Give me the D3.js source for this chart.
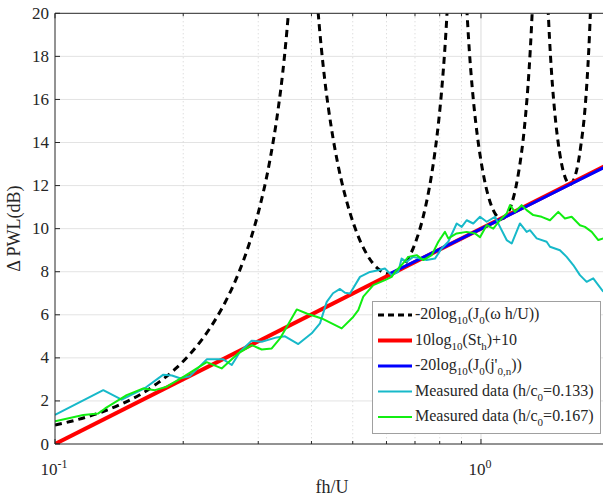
<!DOCTYPE html>
<html><head><meta charset="utf-8">
<script src="https://cdn.jsdelivr.net/npm/d3@7"></script>
<style>
body{margin:0;background:#fff;}
svg text{font-family:"Liberation Serif","Times New Roman","DejaVu Serif",serif;fill:#262626;}
</style>
</head><body>
<svg id="c" width="603" height="497" font-family="Liberation Serif, Times New Roman, DejaVu Serif, serif"></svg>
<script>
// ---------------- data ----------------
const xDomain = [0.1, 2];
const yDomain = [0, 20];
const yTicks = [0, 2, 4, 6, 8, 10, 12, 14, 16, 18, 20];
const xMajorTicks = [0.1, 1];
const xMajorLabels = [["10", "-1"], ["10", "0"]];
const xMinorTicks = [0.2, 0.3, 0.4, 0.5, 0.6, 0.7, 0.8, 0.9, 2];

// -20log10(J0(w h/U)) : branches between singularities
const b1S  = [0.1000,0.1114,0.1273,0.1432,0.1592,0.1751,0.1910,0.2069,0.2228,0.2387,0.2546,0.2706,0.2865,0.3024,0.3183,0.3342,0.3422,0.3501,0.3533,0.3581];
const b1Db = [0.88,1.10,1.45,1.86,2.32,2.86,3.46,4.15,4.93,5.82,6.83,8.00,9.37,11.00,13.00,15.57,17.18,19.14,20.06,21.65];
const b2S  = [0.4106,0.4138,0.4218,0.4297,0.4456,0.4615,0.4775,0.5093,0.5411,0.5730,0.6098,0.6366,0.6685,0.7003,0.7321,0.7639,0.7799,0.7958,0.8117,0.8276,0.8356];
const b2Db = [21.17,20.28,18.42,16.93,14.66,12.98,11.70,9.89,8.77,8.14,7.90,8.02,8.48,9.31,10.57,12.38,13.57,15.01,16.81,19.15,20.62];
const b3S  = [0.9199,0.9231,0.9311,0.9390,0.9549,0.9708,0.9868,1.0186,1.0504,1.0823,1.1166,1.1459,1.1777,1.2096,1.2414,1.2573,1.2732,1.2892,1.3051,1.3210,1.3289];
const b3Db = [21.35,20.75,19.43,18.27,16.44,15.03,13.91,12.28,11.24,10.66,10.45,10.60,11.10,11.99,13.34,14.20,15.30,16.62,18.26,20.35,21.64];
const b4S  = [1.4292,1.4324,1.4483,1.4642,1.4961,1.5279,1.5597,1.5915,1.6192,1.6552,1.6870,1.7189,1.7507,1.7666,1.7825,1.7985,1.8144];
const b4Db = [21.37,20.89,18.85,17.28,15.05,13.60,12.68,12.19,12.05,12.32,12.94,13.97,15.33,16.32,17.54,19.07,21.03];

// 10log10(St_h)+10
const redS  = [0.1, 2];
const redDb = [0, 13.01];

// -20log10(J0(j'0,n))
const blueS  = [0.6098, 1.1166, 1.6192, 2.1205];
const blueDb = [7.90, 10.45, 12.05, 13.21];

// Measured data (h/c0=0.133)
const cyanS  = [0.1000,0.1298,0.1434,0.1627,0.1796,0.1882,0.1965,0.2074,0.2271,0.2484,0.2600,0.2719,0.2895,0.3057,0.3314,0.3467,0.3725,0.4005,0.4189,0.4344,0.4494,0.4667,0.4796,0.4927,0.5200,0.5487,0.5739,0.5951,0.6171,0.6395,0.6512,0.6691,0.6934,0.7190,0.7455,0.7798,0.8085,0.8380,0.8770,0.9011,0.9256,0.9592,0.9947,1.0313,1.0787,1.1082,1.1490,1.1806,1.2345,1.2801,1.3032,1.3514,1.4261,1.4521,1.5324,1.5891,1.6468,1.7074,1.7703,1.8346,1.9370];
const cyanDb = [1.35,2.50,2.06,2.60,3.22,3.18,3.05,3.15,3.93,3.93,3.67,4.28,4.80,4.75,4.95,5.00,4.64,5.14,5.60,6.60,7.00,7.20,7.02,6.99,7.76,7.99,8.07,8.15,7.84,7.99,8.61,8.46,8.69,8.61,8.54,8.61,9.08,9.39,10.24,10.08,10.39,10.24,10.55,10.32,10.55,10.08,9.47,9.31,10.24,9.85,9.93,9.55,9.39,9.16,9.00,8.69,8.31,7.84,7.53,7.69,7.07];

// Measured data (h/c0=0.167)
const greenS  = [0.1000,0.1165,0.1264,0.1311,0.1473,0.1612,0.1716,0.1829,0.2001,0.2271,0.2462,0.2694,0.2895,0.3057,0.3227,0.3375,0.3694,0.3898,0.4228,0.4710,0.5012,0.5152,0.5293,0.5587,0.5951,0.6171,0.6281,0.6512,0.6750,0.7064,0.7321,0.7661,0.7941,0.8232,0.8380,0.8770,0.9256,0.9681,0.9947,1.0313,1.0688,1.1082,1.1490,1.1698,1.2018,1.2459,1.2801,1.3268,1.3882,1.4521,1.5187,1.5744,1.6324,1.7074,1.7540,1.8197,1.8856,1.9370];
const greenDb = [1.06,1.35,1.42,1.65,2.27,2.58,2.50,2.66,3.12,3.80,3.51,4.21,4.59,4.39,4.44,4.90,6.25,6.06,5.83,5.37,5.90,6.22,6.84,7.38,7.61,7.76,7.99,8.31,8.69,8.77,8.54,8.77,9.39,9.85,9.55,9.78,9.85,9.78,9.60,10.16,10.00,10.39,10.70,11.09,10.78,11.09,10.86,10.63,10.55,10.39,10.78,10.47,10.55,10.16,10.08,9.85,9.47,9.55];

const legendItems = [
  {color:"#000000", width:3, dash:"6,4"},
  {color:"#ff0000", width:4, dash:null},
  {color:"#0000ff", width:3, dash:null},
  {color:"#17b9c9", width:2, dash:null},
  {color:"#11ee11", width:2, dash:null}
];

// ---------------- drawing ----------------
const svg = d3.select("#c");
const L = 55, T = 13.3, B = 444, R = 609.2;
const x = d3.scaleLog().domain(xDomain).range([L, R]);
const y = d3.scaleLinear().domain(yDomain).range([B, T]);

svg.append("defs").append("clipPath").attr("id","clip")
  .append("rect").attr("x", L).attr("y", T).attr("width", R - L).attr("height", B - T);

// grid
const grid = svg.append("g");
grid.selectAll("line.hg").data(yTicks.filter(d => d > 0 && d < 20)).enter().append("line")
  .attr("x1", L).attr("x2", R).attr("y1", d => y(d)).attr("y2", d => y(d))
  .attr("stroke", "#e3e3e3").attr("stroke-width", 1);
grid.selectAll("line.vm").data(xMinorTicks).enter().append("line")
  .attr("y1", T).attr("y2", B).attr("x1", d => x(d)).attr("x2", d => x(d))
  .attr("stroke", "#d0d0d0").attr("stroke-width", 1).attr("stroke-dasharray", "1,3");
grid.selectAll("line.vM").data(xMajorTicks.filter(d => d > xDomain[0])).enter().append("line")
  .attr("y1", T).attr("y2", B).attr("x1", d => x(d)).attr("x2", d => x(d))
  .attr("stroke", "#dcdcdc").attr("stroke-width", 1);

const line = (xs, ys) => d3.line().x((d, i) => x(xs[i])).y((d, i) => y(ys[i]));
const plot = svg.append("g").attr("clip-path", "url(#clip)");

[[b1S,b1Db],[b2S,b2Db],[b3S,b3Db],[b4S,b4Db]].forEach(([s, db]) => {
  plot.append("path").attr("d", line(s, db).curve(d3.curveMonotoneX)(s))
    .attr("fill","none").attr("stroke","#000").attr("stroke-width",3)
    .attr("stroke-dasharray","7,5");
});
plot.append("path").attr("d", line(redS, redDb)(redS))
  .attr("fill","none").attr("stroke","#ff0000").attr("stroke-width",4);
plot.append("path").attr("d", line(blueS, blueDb)(blueS))
  .attr("fill","none").attr("stroke","#0000ff").attr("stroke-width",3);
plot.append("path").attr("d", line(cyanS, cyanDb)(cyanS))
  .attr("fill","none").attr("stroke","#17b9c9").attr("stroke-width",2).attr("stroke-linejoin","round");
plot.append("path").attr("d", line(greenS, greenDb)(greenS))
  .attr("fill","none").attr("stroke","#11ee11").attr("stroke-width",2).attr("stroke-linejoin","round");

// axes box
const axisColor = "#262626";
svg.append("line").attr("x1", L).attr("x2", R).attr("y1", B).attr("y2", B).attr("stroke", axisColor);
svg.append("line").attr("x1", L).attr("x2", R).attr("y1", T).attr("y2", T).attr("stroke", axisColor);
svg.append("line").attr("x1", L).attr("x2", L).attr("y1", T).attr("y2", B).attr("stroke", axisColor);

// ticks
svg.selectAll("line.yt").data(yTicks).enter().append("line")
  .attr("x1", L).attr("x2", L + 5).attr("y1", d => y(d)).attr("y2", d => y(d)).attr("stroke", axisColor);
svg.selectAll("line.xt").data(xMinorTicks.concat(xMajorTicks)).enter().append("line")
  .attr("x1", d => x(d)).attr("x2", d => x(d)).attr("y1", B).attr("y2", d => B - (xMajorTicks.includes(d) ? 5 : 3)).attr("stroke", axisColor);
svg.selectAll("line.xtt").data(xMinorTicks.concat(xMajorTicks)).enter().append("line")
  .attr("x1", d => x(d)).attr("x2", d => x(d)).attr("y1", T).attr("y2", d => T + (xMajorTicks.includes(d) ? 5 : 3)).attr("stroke", axisColor);

// y tick labels
svg.selectAll("text.yl").data(yTicks).enter().append("text")
  .attr("x", L - 6).attr("y", d => y(d) + 5.5).attr("text-anchor", "end")
  .attr("font-size", 17).text(d => d);

// x tick labels
xMajorTicks.forEach((v, i) => {
  const t = svg.append("text").attr("x", x(v) - 1).attr("y", 475).attr("text-anchor", "middle").attr("font-size", 17);
  t.append("tspan").text(xMajorLabels[i][0]);
  t.append("tspan").attr("dy", -7).attr("font-size", 12).text(xMajorLabels[i][1]);
});

// axis labels
svg.append("text").attr("x", x(Math.sqrt(xDomain[0]*xDomain[1]))).attr("y", 493).attr("text-anchor","middle")
  .attr("font-size", 18).text("fh/U");
svg.append("text").attr("transform", "translate(20," + ((T + B) / 2) + ") rotate(-90)")
  .attr("text-anchor","middle").attr("font-size", 18).text("Δ PWL(dB)");

// legend
const lg = svg.append("g");
lg.append("rect").attr("x", 372.5).attr("y", 301.5).attr("width", 228).attr("height", 132)
  .attr("fill", "#fff").attr("stroke", "#a0a0a0").attr("stroke-width", 1);
const rowY = [315, 340.5, 366, 391.5, 417];
legendItems.forEach((it, i) => {
  lg.append("line").attr("x1", 378).attr("x2", 412).attr("y1", rowY[i]).attr("y2", rowY[i])
    .attr("stroke", it.color).attr("stroke-width", it.width).attr("stroke-dasharray", it.dash);
});
const ltext = (i) => lg.append("text").attr("x", 415).attr("y", rowY[i] + 4).attr("font-size", 16);
const parts = (t, arr) => {
  let level = 0;
  arr.forEach(([s, isSub]) => {
    const target = isSub ? 5 : 0;
    t.append("tspan").attr("dy", target - level).attr("font-size", isSub ? 11 : null).text(s);
    level = target;
  });
};
parts(ltext(0), [["-20log",0],["10",1],["(J",0],["0",1],["(ω h/U))",0]]);
parts(ltext(1), [["10log",0],["10",1],["(St",0],["h",1],[")+10",0]]);
parts(ltext(2), [["-20log",0],["10",1],["(J",0],["0",1],["(j'",0],["0,n",1],["))",0]]);
parts(ltext(3), [["Measured data (h/c",0],["0",1],["=0.133)",0]]);
parts(ltext(4), [["Measured data (h/c",0],["0",1],["=0.167)",0]]);
</script>
</body></html>
